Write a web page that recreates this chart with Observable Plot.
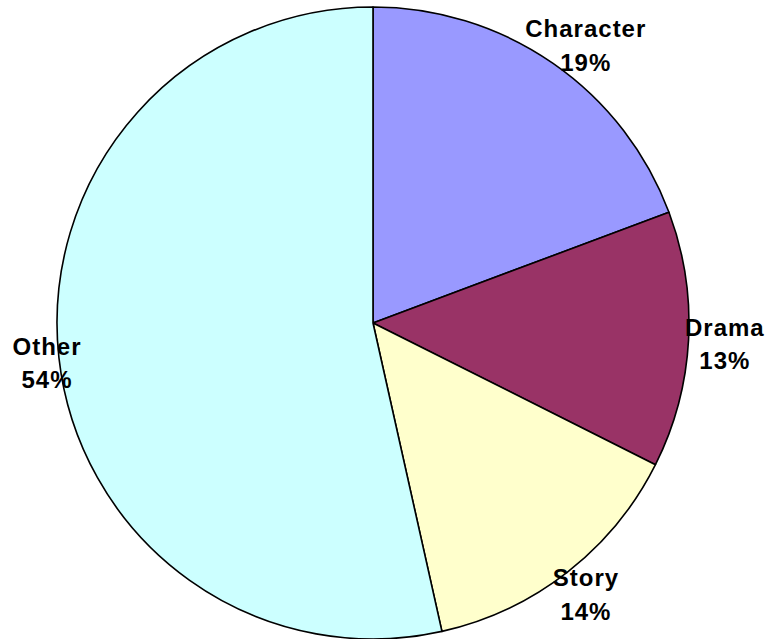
<!DOCTYPE html>
<html>
<head>
<meta charset="utf-8">
<script src="https://cdn.jsdelivr.net/npm/d3@7"></script>
<script src="https://cdn.jsdelivr.net/npm/@observablehq/plot@0.6"></script>
<style>
  html, body { margin: 0; padding: 0; background: #fff; }
</style>
</head>
<body>
<div id="chart"></div>
<script>
const categories = ["Character", "Drama", "Story", "Other"];
const values = [19.3, 13.1, 14.1, 53.5];
const labels = ["19%", "13%", "14%", "54%"];
const colors = ["#9999ff", "#993366", "#ffffcc", "#ccffff"];

const W = 770, H = 639;
const R = 316;                 // radius in pixels (matches scale unit)
const FONT = "bold 24px 'Liberation Sans', Arial, sans-serif";
const LS = 1;                  // letter spacing px
const LINE_H = 1.4;            // em

const data = categories.map((c, i) => ({category: c, value: values[i], label: labels[i], color: colors[i]}));
const arcs = d3.pie().sort(null).value(d => d.value)(data);

// measure label widths
const ctx = document.createElement("canvas").getContext("2d");
ctx.font = FONT;
function textW(s) { return ctx.measureText(s).width + LS * s.length; }

const gap = -4;
const labelData = arcs.map(a => {
  const mid = (a.startAngle + a.endAngle) / 2;
  const ux = Math.sin(mid), uy = Math.cos(mid);
  const w = Math.max(textW(a.data.category), textW(a.data.label));
  const h = 24 * LINE_H + 24;
  let px = (R + gap) * ux + (w / 2) * ux;          // pixels from centre
  let py = (R + gap) * uy + (h / 2) * uy;
  // keep inside the picture (centre at 373, 323)
  const minX = -373 + w / 2 + 12, maxX = (W - 373) - w / 2 - 4;
  px = Math.max(minX, Math.min(maxX, px));
  return {x: px / R, y: py / R, text: a.data.category + "\n" + a.data.label};
});

function pieMark(index, scales, values, dimensions, context) {
  const cx = scales.x(0), cy = scales.y(0);
  const r = scales.x(1) - scales.x(0);
  const arc = d3.arc().innerRadius(0).outerRadius(r);
  const g = d3.create("svg:g").attr("transform", `translate(${cx},${cy})`);
  g.selectAll("path")
    .data(arcs)
    .join("path")
    .attr("d", arc)
    .attr("fill", d => d.data.color)
    .attr("stroke", "#000")
    .attr("stroke-width", 1.6)
    .attr("stroke-linejoin", "round");
  return g.node();
}

const chart = Plot.plot({
  width: W,
  height: H,
  margin: 0,
  x: {domain: [-1, 1], range: [373 - R, 373 + R], axis: null},
  y: {domain: [-1, 1], range: [323 + R, 323 - R], axis: null},
  marks: [
    pieMark,
    Plot.text(labelData, {
      x: "x", y: "y", text: "text",
      fontSize: 24, fontWeight: "bold",
      fontFamily: "'Liberation Sans', Arial, sans-serif",
      fill: "#000",
      lineHeight: LINE_H,
      textAnchor: "middle",
      lineAnchor: "middle"
    })
  ],
  style: {background: "#fff", overflow: "visible"}
});
chart.querySelectorAll("text").forEach(t => t.style.letterSpacing = LS + "px");
document.getElementById("chart").append(chart);
</script>
</body>
</html>
